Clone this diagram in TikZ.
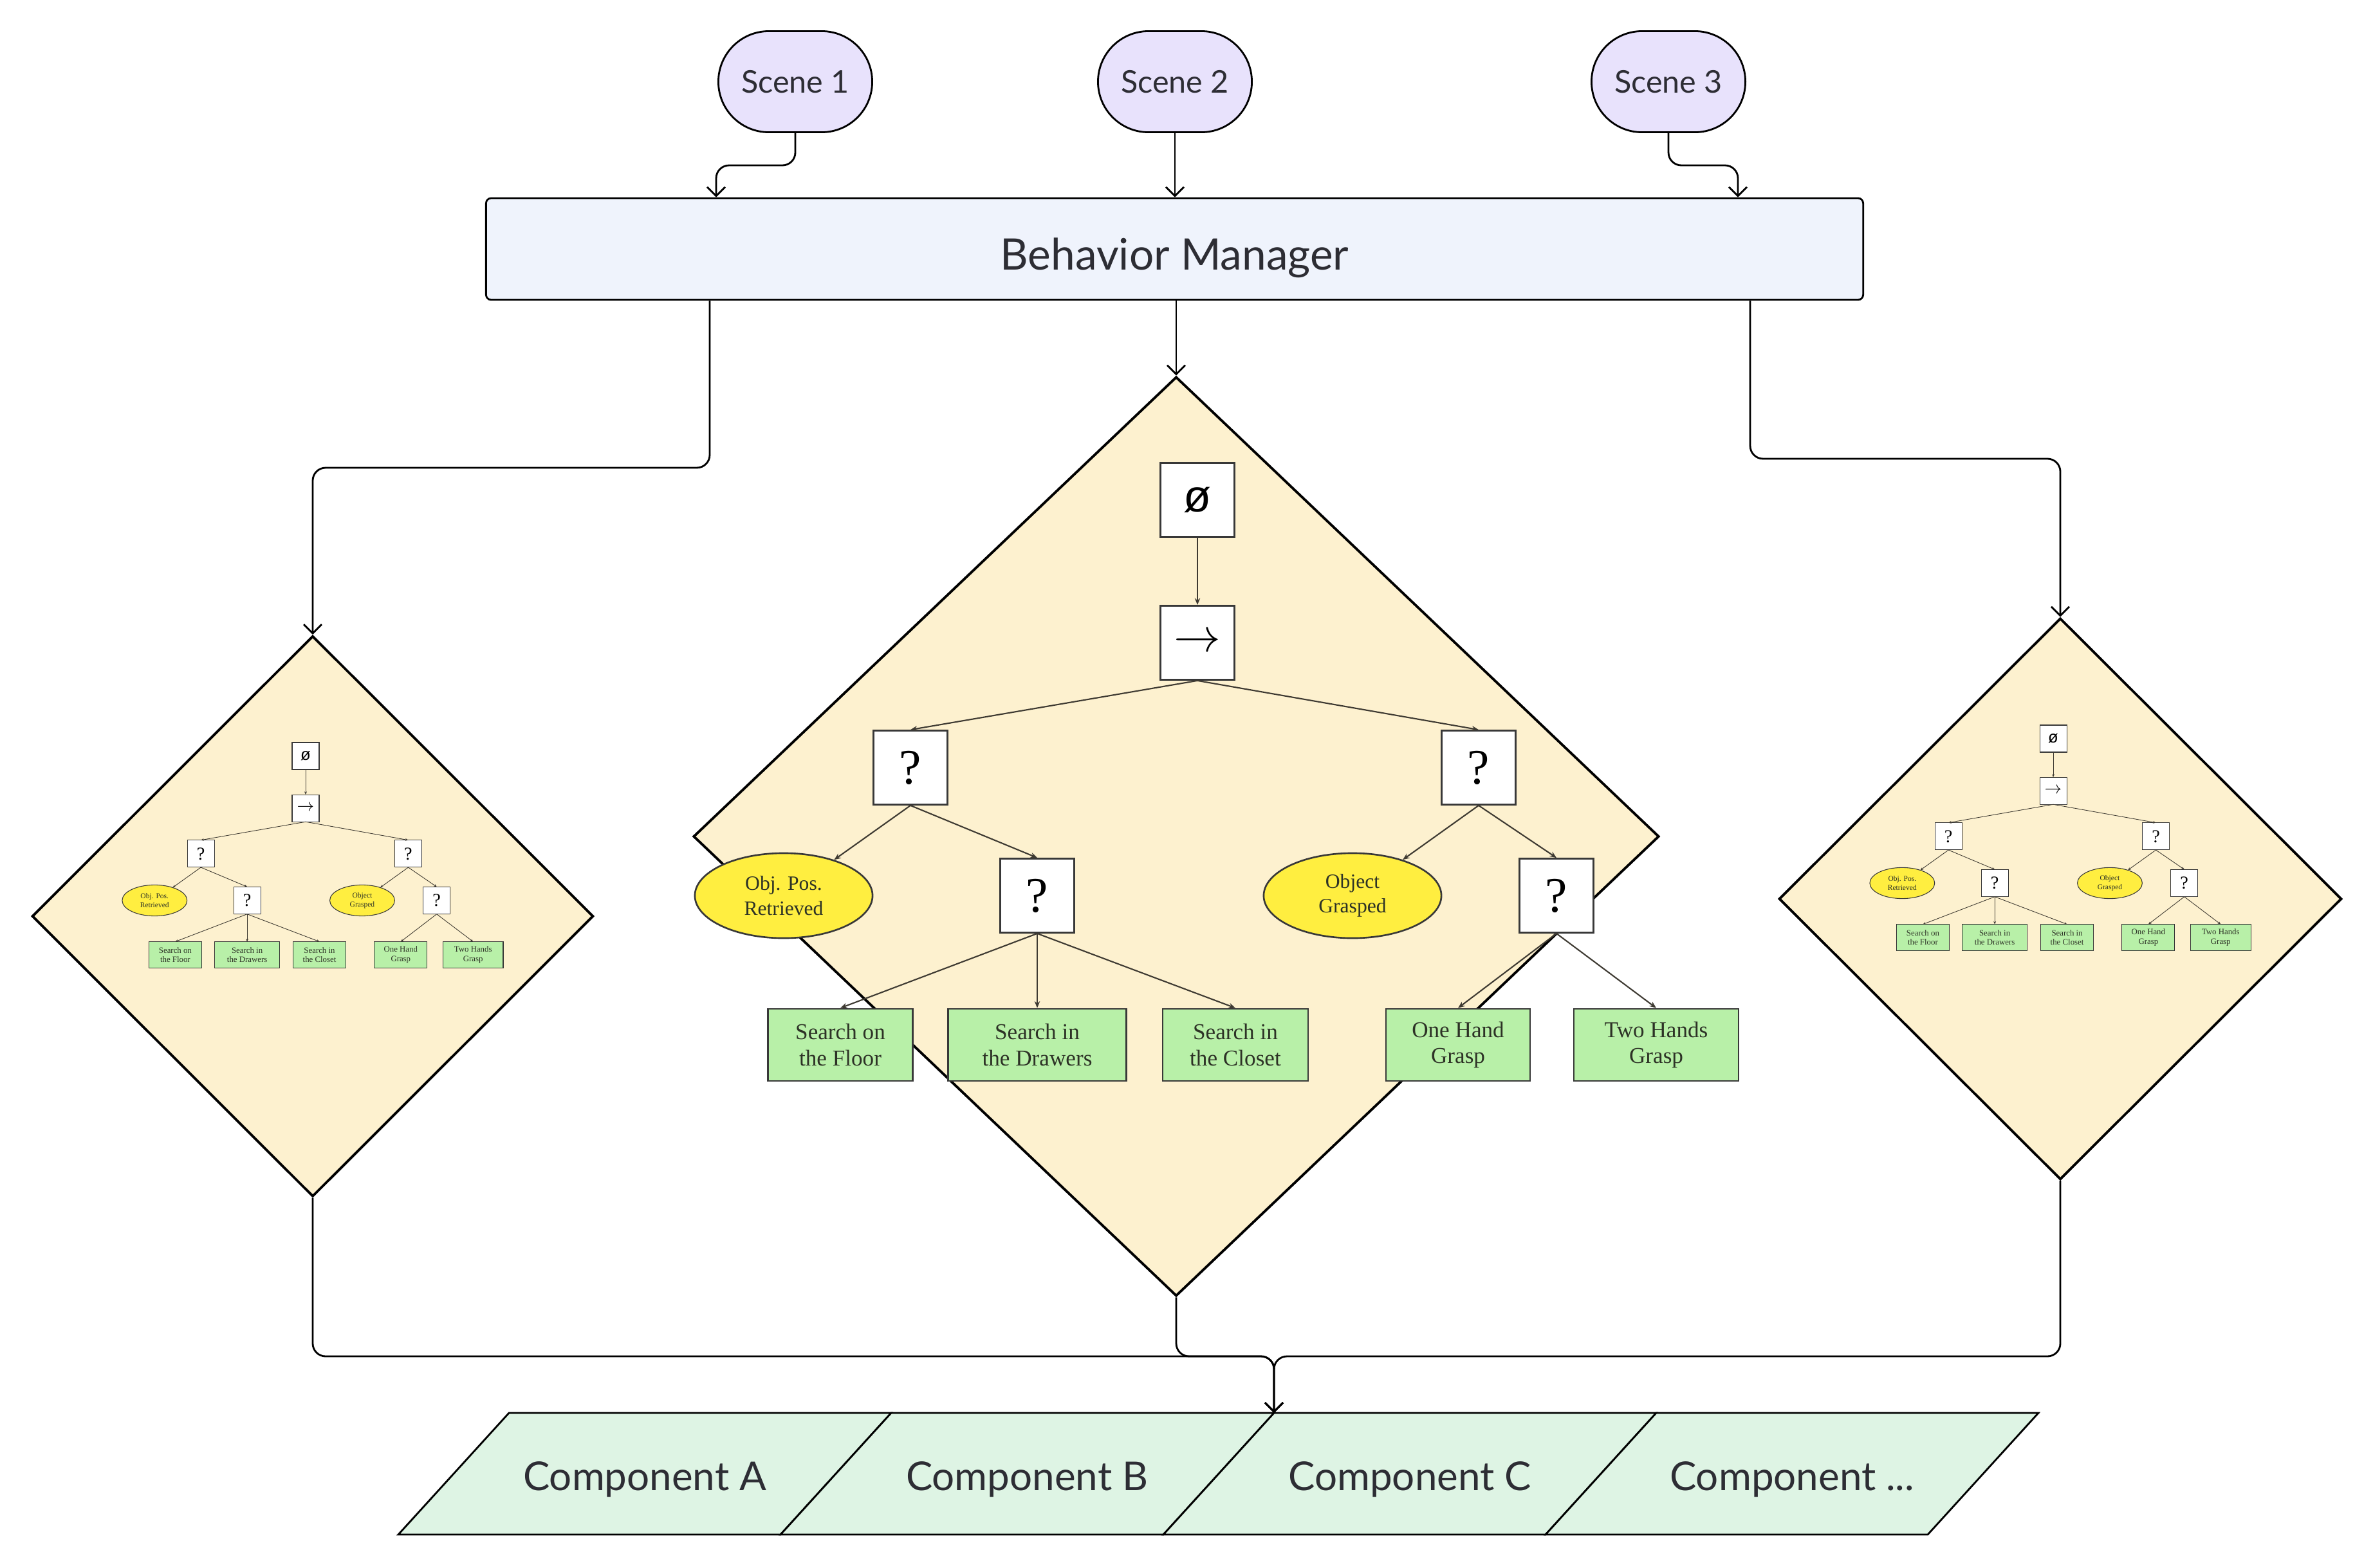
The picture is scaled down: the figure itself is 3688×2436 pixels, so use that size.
\documentclass[tikz,border=0pt]{standalone}
\usepackage{fontspec}
\usetikzlibrary{arrows.meta,shapes.geometric,shapes.misc,calc}
\newfontfamily\mfont{Lato}
\newfontfamily\tfont{Liberation Serif}
\newfontfamily\sfont{Liberation Sans}
\definecolor{scenefill}{RGB}{232,226,252}
\definecolor{bmfill}{RGB}{239,243,252}
\definecolor{dfill}{RGB}{253,241,207}
\definecolor{compfill}{RGB}{222,244,228}
\definecolor{gfill}{RGB}{184,240,168}
\definecolor{yfill}{RGB}{255,238,64}
\definecolor{txt}{RGB}{45,45,52}
\definecolor{tbord}{RGB}{56,56,56}
\definecolor{tedge}{RGB}{62,58,50}
\definecolor{ttxt}{RGB}{45,50,38}

% behaviour tree: #1 prefix, #2 x, #3 y, #4 scale, #5 border width, #6 edge width, #7 arrow length, #8 arrow width
\newcommand\bttree[8]{%
\begin{scope}[shift={(#2,#3)}, scale=#4, transform shape, name prefix=#1-,
  tb/.style={draw=tbord, fill=white, line width=#5, minimum width=1.15cm, minimum height=1.15cm, inner sep=0pt, text=black, font=\tfont\fontsize{22}{22}\selectfont},
  tg/.style={draw=tbord, fill=gfill, line width=#5, minimum height=1.12cm, inner sep=0pt, align=center, text=ttxt, font=\tfont\fontsize{10}{11.5}\selectfont},
  te/.style={ellipse, draw=tbord, fill=yfill, line width=#5, minimum width=2.76cm, minimum height=1.32cm, inner sep=0pt, align=center, text=ttxt, font=\tfont\fontsize{9}{10.9}\selectfont},
  tl/.style={draw=tedge, line width=#6, -{Stealth[length=#7, width=#8]}}]
  \node[tb, font=\sfont\fontsize{20}{20}\selectfont] (root) at (0,0) {ø};
  \node[tb] (seq) at (0,222) {$\rightarrow$};
  \node[tb] (qL) at (-446,416) {?};
  \node[tb] (qR) at (437,416) {?};
  \node[te] (e1) at (-643,615) {Obj. Pos.\\Retrieved};
  \node[tb] (qML) at (-249,615) {?};
  \node[te] (e2) at (241,615) {Object\\Grasped};
  \node[tb] (qMR) at (558,615) {?};
  \node[tg, minimum width=2.25cm] (g1) at (-555,847) {Search on\\the Floor};
  \node[tg, minimum width=2.77cm] (g2) at (-249,847) {Search in\\the Drawers};
  \node[tg, minimum width=2.26cm] (g3) at (59,847) {Search in\\the Closet};
  \node[tg, minimum width=2.24cm] (g4) at (405,847) {One Hand\\Grasp};
  \node[tg, minimum width=2.56cm] (g5) at (713,847) {Two Hands\\Grasp};
  \draw[tl] (root) -- (seq);
  \draw[tl] (seq.south) -- (qL.north);
  \draw[tl] (seq.south) -- (qR.north);
  \draw[tl] (qL.south) -- (e1);
  \draw[tl] (qL.south) -- (qML.north);
  \draw[tl] (qML.south) -- (g1.north);
  \draw[tl] (qML.south) -- (g2.north);
  \draw[tl] (qML.south) -- (g3.north);
  \draw[tl] (qR.south) -- (e2);
  \draw[tl] (qR.south) -- (qMR.north);
  \draw[tl] (qMR.south) -- (g4.north);
  \draw[tl] (qMR.south) -- (g5.north);
\end{scope}}

\begin{document}
\begin{tikzpicture}[x=0.01cm, y=-0.01cm,
  scene/.style={rounded rectangle, draw=black, line width=0.8pt, fill=scenefill, minimum width=2.39cm, minimum height=1.57cm, inner sep=0pt, text=txt, font=\mfont\fontsize{13.8}{16}\selectfont},
  bmbox/.style={draw=black, line width=0.8pt, fill=bmfill, rounded corners=0.08cm, minimum width=21.39cm, minimum height=1.58cm, inner sep=0pt, text height=18.3pt, text depth=0pt, text=txt, font=\mfont\fontsize{19.2}{22}\selectfont},
  dia/.style={diamond, draw=black, line width=1.1pt, fill=dfill, inner sep=0pt},
  comp/.style={draw=black, line width=0.8pt, fill=compfill},
  comptext/.style={text=txt, font=\mfont\fontsize{17.6}{21}\selectfont, inner sep=0pt},
  conn/.style={draw=black, line width=0.8pt, rounded corners=0.2cm, -{Straight Barb[length=0.14cm, width=0.28cm]}}]
\fill[white] (0,0) rectangle (3688,2436);
\useasboundingbox (0,0) rectangle (3688,2436);

% scenes and manager
\node[scene] (s1) at (1236,127) {Scene 1};
\node[scene] (s2) at (1826,127) {Scene 2};
\node[scene] (s3) at (2593,127) {Scene 3};
\node[bmbox] (bm) at (1825.5,387) {Behavior Manager};

% diamonds
\node[dia, minimum width=8.72cm, minimum height=8.71cm] (dL) at (486,1424) {};
\node[dia, minimum width=15.0cm, minimum height=14.28cm] (dM) at (1828,1300) {};
\node[dia, minimum width=8.74cm, minimum height=8.72cm] (dR) at (3202,1397) {};

% trees
\bttree{M}{1861}{777}{1}{0.75pt}{0.6pt}{3pt}{2.4pt}
\bttree{L}{475}{1175}{0.365}{0.3pt}{0.25pt}{1.3pt}{1.1pt}
\bttree{R}{3191}{1148}{0.365}{0.3pt}{0.25pt}{1.3pt}{1.1pt}

% components
\filldraw[comp] (791,2196) -- (1385,2196) -- (1213,2385) -- (619,2385) -- cycle;
\filldraw[comp] (1385,2196) -- (1980,2196) -- (1808,2385) -- (1213,2385) -- cycle;
\filldraw[comp] (1980,2196) -- (2574,2196) -- (2402,2385) -- (1808,2385) -- cycle;
\filldraw[comp] (2574,2196) -- (3168,2196) -- (2996,2385) -- (2402,2385) -- cycle;
\node[comptext] (cA) at (1002,2299) {Component A};
\node[comptext] (cB) at (1596,2299) {Component B};
\node[comptext] (cC) at (2191,2299) {Component C};
\node[comptext] (cD) at (2785,2299) {Component ...};
\coordinate (mergeEnd) at (1980,2196);

% connectors
\coordinate (bmL) at (1103,0 |- bm.south);
\coordinate (bmM) at (dM.north |- bm.south);
\coordinate (bmR) at (2720,0 |- bm.south);
\draw[conn] (s1.south) -- (1236,257) -- (1113,257) -- (1113,0 |- bm.north);
\draw[conn] (s2.south) -- (s2.south |- bm.north);
\draw[conn] (s3.south) -- (2593,257) -- (2701,257) -- (2701,0 |- bm.north);
\draw[conn] (bmL) -- (1103,727) -- (486,727) -- (dL.north);
\draw[conn] (bmM) -- (dM.north);
\draw[conn] (bmR) -- (2720,713) -- (3202,713) -- (dR.north);
\draw[conn] (dL.south) -- (486,2108) -- (1980,2108) -- (mergeEnd);
\draw[conn] (dM.south) -- (1828,2108) -- (1980,2108) -- (mergeEnd);
\draw[conn] (dR.south) -- (3202,2108) -- (1980,2108) -- (mergeEnd);
\end{tikzpicture}
\end{document}
